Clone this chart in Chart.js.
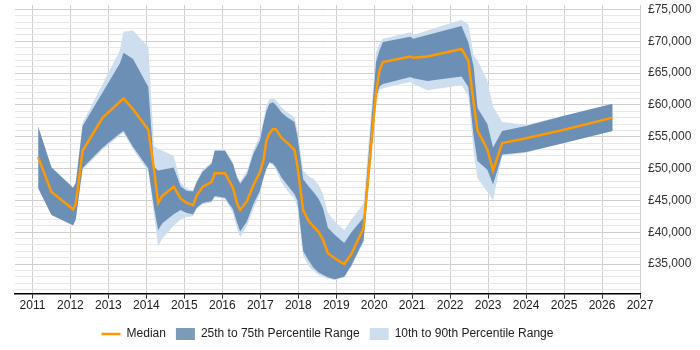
<!DOCTYPE html>
<html>
<head>
<meta charset="utf-8">
<script src="https://cdn.jsdelivr.net/npm/chart.js@4.4.1/dist/chart.umd.min.js"></script>
<style>
  body { margin: 0; background: #fff; }
</style>
</head>
<body>
<canvas id="rateChart" width="700" height="350"></canvas>
<script>
// decimal years of each sample
const years = [2011.15, 2011.5, 2012.07, 2012.14, 2012.32, 2012.85, 2013.3, 2013.4, 2013.65, 2014.05,
  2014.2, 2014.31, 2014.42, 2014.72, 2014.9, 2015.06, 2015.23, 2015.32, 2015.48, 2015.72,
  2015.8, 2016.07, 2016.28, 2016.39, 2016.47, 2016.65, 2016.81, 2016.99, 2017.08, 2017.16,
  2017.24, 2017.33, 2017.41, 2017.56, 2017.7, 2017.9, 2017.98, 2018.13, 2018.27, 2018.4,
  2018.53, 2018.65, 2018.78, 2018.96, 2019.21, 2019.4, 2019.72, 2020.05, 2020.14, 2020.23,
  2020.95, 2021.03, 2021.4, 2022.3, 2022.48, 2022.62, 2022.72, 2022.98, 2023.13, 2023.37,
  2024.0, 2025.0, 2026.28];

const p10 = [46900, 42700, 41000, 41900, 49800, 53000, 55200, 55600, 53000, 49500,
  42800, 37800, 39000, 41000, 42000, 42400, 42500, 43600, 44400, 44700,
  45500, 45200, 43000, 40500, 39200, 41000, 43500, 46000, 48200, 49800,
  50800, 50600, 49800, 47800, 46600, 45200, 43800, 36300, 34700, 33900,
  33300, 33000, 32700, 32500, 32900, 34600, 38400, 60000, 62300, 62600,
  63600, 63300, 62300, 63100, 61400, 52500, 48500, 46300, 45000, 52000,
  52500, 54000, 55900];

const p25 = [46900, 42700, 41100, 42000, 50100, 53300, 55500, 55900, 53400, 50000,
  43900, 40300, 41400, 42800, 43500, 43000, 42800, 43800, 44600, 44900,
  45700, 45400, 43600, 41500, 40100, 41700, 44300, 46500, 48500, 50000,
  51000, 50800, 50200, 48600, 47500, 46000, 44900, 37000, 35600, 34400,
  33700, 33300, 32900, 32600, 33000, 34800, 38700, 61200, 62900, 63300,
  64400, 64200, 63750, 64450, 62800, 55000, 51200, 49800, 47500, 52200,
  52600, 54000, 55900];

const median = [51800, 46300, 43600, 44400, 52800, 58000, 60500, 61000, 59300, 56100,
  49900, 44600, 45700, 47150, 45300, 44600, 44250, 45700, 47100, 47900,
  49260, 49260, 47000, 44500, 43500, 44900, 47260, 49470, 51200, 54360,
  55500, 56200, 56150, 54800, 54100, 52940, 50300, 43420, 41800, 40900,
  40100, 38840, 36700, 35900, 35000, 36600, 40670, 62000, 65400, 66730,
  67600, 67400, 67620, 68780, 66900, 60300, 56000, 53000, 49700, 54000,
  54750, 56100, 58000];

const p75 = [56600, 50200, 47000, 47700, 56700, 62000, 66500, 68200, 67200, 62800,
  50300, 49700, 49800, 50150, 47200, 46500, 46400, 47800, 49500, 50800,
  52800, 52800, 50700, 48500, 47600, 49100, 52200, 54400, 57000, 59000,
  60200, 60400, 60000, 58800, 58100, 57300, 55000, 48300, 47200, 46300,
  45300, 43800, 40700, 39600, 38300, 40000, 42300, 66800, 68600, 69900,
  70700, 70400, 71000, 72400, 69800, 66000, 59500, 57000, 53300, 55900,
  56700, 58300, 60200];

const p90 = [56600, 50200, 47000, 48000, 57200, 63300, 68500, 71500, 71700, 69100,
  53500, 53100, 52800, 52000, 47800, 46900, 46600, 48000, 49800, 51000,
  52900, 52900, 51000, 48800, 48000, 49600, 52800, 55200, 57500, 59800,
  60900, 61000, 60800, 59600, 58900, 58100, 56000, 49700, 48800, 48400,
  47500, 46000, 43000, 41700, 40300, 42000, 44500, 68300, 69600, 70400,
  71400, 71000, 71700, 73400, 72600, 67800, 67000, 63800, 59700, 57300,
  56900, 58300, 60200];

const yearTicks = [2011, 2012, 2013, 2014, 2015, 2016, 2017, 2018, 2019, 2020, 2021, 2022, 2023, 2024, 2025, 2026, 2027];

const toPoints = vals => vals.map((v, i) => ({ x: years[i], y: v }));

Chart.defaults.font.family = '"Liberation Sans", Arial, sans-serif';
Chart.defaults.font.size = 12;

// centre the legend under the plot area rather than the whole canvas
const legendUnderPlot = {
  id: 'legendUnderPlot',
  afterLayout(chart) {
    const lg = chart.legend;
    if (!lg) return;
    lg.left = chart.chartArea.left;
    lg.right = chart.chartArea.right;
    lg.width = lg.right - lg.left;
  }
};

const ctx = document.getElementById('rateChart').getContext('2d');
const rateChart = new Chart(ctx, {
  type: 'line',
  data: {
    datasets: [
      {
        label: 'Median',
        data: toPoints(median),
        borderColor: '#ff9900',
        backgroundColor: '#ff9900',
        borderWidth: 2.5,
        pointStyle: 'line',
        fill: false
      },
      {
        label: '25th to 75th Percentile Range',
        data: toPoints(p75),
        borderWidth: 0,
        backgroundColor: 'rgba(55, 100, 150, 0.65)',
        pointStyle: 'rect',
        fill: '+1'
      },
      {
        label: 'p25',
        data: toPoints(p25),
        borderWidth: 0,
        fill: false
      },
      {
        label: '10th to 90th Percentile Range',
        data: toPoints(p90),
        borderWidth: 0,
        backgroundColor: 'rgb(205, 222, 239)',
        pointStyle: 'rect',
        fill: '+1'
      },
      {
        label: 'p10',
        data: toPoints(p10),
        borderWidth: 0,
        fill: false
      }
    ]
  },
  options: {
    responsive: false,
    animation: false,
    layout: { padding: { left: 15, top: 5, right: 0, bottom: 0 } },
    elements: {
      point: { radius: 0, hoverRadius: 0 },
      line: { tension: 0 }
    },
    scales: {
      x: {
        type: 'linear',
        min: 2010.54,
        max: 2027,
        afterBuildTicks: scale => { scale.ticks = yearTicks.map(v => ({ value: v })); },
        afterFit: scale => { scale.height += 5; },
        grid: { color: '#d0d0d0', tickColor: '#333', tickLength: 5 },
        border: { color: '#000', width: 1.5 },
        ticks: {
          padding: 0,
          color: '#222',
          autoSkip: false,
          maxRotation: 0,
          callback: v => String(v)
        }
      },
      y: {
        position: 'right',
        min: 30350,
        max: 75700,
        afterBuildTicks: scale => {
          const t = [];
          for (let v = 31000; v <= 75000; v += 1000) t.push({ value: v });
          scale.ticks = t;
        },
        afterFit: scale => {
          scale.width = 60;
          scale.paddingTop = 0;
          scale.paddingBottom = 0;
        },
        grid: {
          drawTicks: false,
          color: c => (c.tick && c.tick.value % 5000 === 0) ? '#cfcfcf' : '#e8e8e8'
        },
        border: { display: false },
        ticks: {
          autoSkip: false,
          padding: 8,
          color: '#333',
          callback: v => v % 5000 === 0 ? '£' + v.toLocaleString('en-GB') : ''
        }
      }
    },
    plugins: {
      tooltip: { enabled: false },
      legend: {
        position: 'bottom',
        labels: {
          color: '#222',
          usePointStyle: true,
          pointStyleWidth: 19,
          boxHeight: 12,
          padding: 10,
          filter: item => [0, 1, 3].includes(item.datasetIndex)
        }
      }
    }
  },
  plugins: [legendUnderPlot]
});
</script>
</body>
</html>
